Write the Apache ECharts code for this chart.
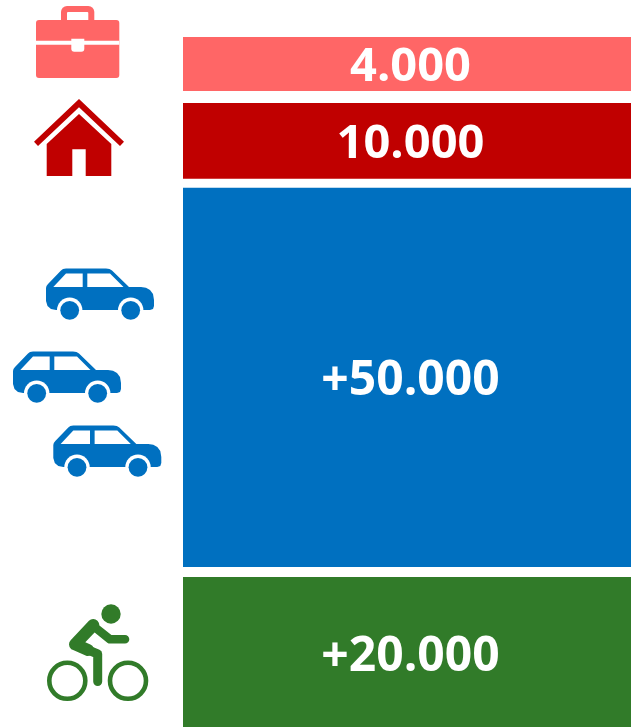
<!DOCTYPE html>
<html>
<head>
<meta charset="utf-8">
<style>html,body{margin:0;padding:0;background:#fff}#c{width:631px;height:727px}</style>
<script src="https://cdn.jsdelivr.net/npm/echarts@6/dist/echarts.min.js"></script>
</head>
<body>
<div id="c"></div>
<script>
// bottom-to-top order
const categories = ['Bike', 'Cars', 'Home', 'Work'];
const tickLabels = ['+20.000', '+50.000', '10.000', '4.000'];
// Drawn bar extents (the top bar is drawn taller than its 4.000 label)
const drawnValues = [20000, 50000, 10000, 7120];
const spacers = [1320, 1190, 1583];
const colors = ['#317B29', '#0070C0', '#C00000', '#FF6666'];
const labelDy = [5.5, 4, 3.5, 3.5];
const labelSizes = [48, 48, 47, 47];
const axisMin = 200;
const axisMax = 91213;

const series = [];
categories.forEach((name, i) => {
  series.push({
    name, type: 'bar', stack: 'total', barWidth: '100%',
    data: [drawnValues[i]],
    itemStyle: { color: colors[i] },
    label: {
      show: true, position: 'inside', offset: [3.5, labelDy[i]],
      formatter: tickLabels[i], color: '#fff',
      fontFamily: 'Open Sans', fontWeight: 700, fontSize: labelSizes[i]
    }
  });
  if (i < spacers.length) {
    series.push({
      name: 'gap' + i, type: 'bar', stack: 'total', barWidth: '100%',
      data: [spacers[i]], itemStyle: { color: 'transparent' }, silent: true
    });
  }
});

const blue = colors[1], red = colors[2], salmon = colors[3], green = colors[0];
const white = '#fff';
const carBody = [[0,20],[0.5,18],[2,16],[15,2.5],[17,1],[20,0.5],[60,0.5],[63.5,1],[66,2.5],[83,19],[95,19],[100,19.7],[104,22],[107,26],[108,32],[108,38],[107,41],[104,42],[10,42],[5,41],[1.5,38],[0,33]];

function car(x, y) {
  return {
    type: 'group', x, y,
    children: [
      { type: 'polygon', z: 1, shape: { points: carBody }, style: { fill: blue } },
      { type: 'polygon', z: 2, shape: { points: [[7.3,19],[20,5.5],[36.7,5.5],[36.7,19]] }, style: { fill: white } },
      { type: 'polygon', z: 2, shape: { points: [[41.3,19],[41.3,5.5],[64,5.5],[77.5,19]] }, style: { fill: white } },
      { type: 'circle', z: 2, shape: { cx: 23.7, cy: 42.3, r: 12.7 }, style: { fill: white } },
      { type: 'circle', z: 2, shape: { cx: 84.7, cy: 42.3, r: 12.7 }, style: { fill: white } },
      { type: 'circle', z: 3, shape: { cx: 23.7, cy: 42.3, r: 9.4 }, style: { fill: blue } },
      { type: 'circle', z: 3, shape: { cx: 84.7, cy: 42.3, r: 9.4 }, style: { fill: blue } }
    ]
  };
}

const icons = [
  // briefcase
  { type: 'rect', z: 1, shape: { x: 61, y: 6, width: 33.3, height: 20, r: 6 }, style: { fill: salmon } },
  { type: 'rect', z: 2, shape: { x: 67, y: 12, width: 21.3, height: 10, r: 1 }, style: { fill: white } },
  { type: 'rect', z: 3, shape: { x: 36, y: 20, width: 83.3, height: 58, r: 3 }, style: { fill: salmon } },
  { type: 'rect', z: 4, shape: { x: 36, y: 40.7, width: 83.3, height: 4 }, style: { fill: white } },
  { type: 'rect', z: 4, shape: { x: 71.3, y: 38.7, width: 13, height: 13, r: [0, 0, 3, 3] }, style: { fill: white } },
  // house
  { type: 'polygon', z: 1, shape: { points: [[79,99],[124,141.7],[120,146],[79,107.3],[38,146],[34,141.7]] }, style: { fill: red } },
  { type: 'polygon', z: 1, shape: { points: [[79,114],[111.3,144],[111.3,176],[85.7,176],[85.7,149.3],[72.3,149.3],[72.3,176],[46.7,176],[46.7,144]] }, style: { fill: red } },
  // cars
  car(46, 268), car(13, 351), car(53.3, 425),
  // bike
  { type: 'circle', z: 1, shape: { cx: 111, cy: 614, r: 9.7 }, style: { fill: green } },
  { type: 'circle', z: 1, shape: { cx: 67.3, cy: 680.8, r: 18 }, style: { fill: 'none', stroke: green, lineWidth: 4.6 } },
  { type: 'circle', z: 1, shape: { cx: 128, cy: 680.8, r: 18 }, style: { fill: 'none', stroke: green, lineWidth: 4.6 } },
  { type: 'polyline', z: 1, shape: { points: [[93.3,625],[75,644.3],[97.7,654],[97.7,681.5]] }, style: { fill: 'none', stroke: green, lineWidth: 9, lineCap: 'round', lineJoin: 'round' } },
  { type: 'polyline', z: 1, shape: { points: [[93.3,625],[75,644.3],[88,650]] }, style: { fill: 'none', stroke: green, lineWidth: 12, lineCap: 'round', lineJoin: 'round' } },
  { type: 'polyline', z: 1, shape: { points: [[93.3,626],[110,639.3],[125,639.3]] }, style: { fill: 'none', stroke: green, lineWidth: 8.6, lineCap: 'round', lineJoin: 'round' } }
];

const chart = echarts.init(document.getElementById('c'), null, { renderer: 'canvas' });
chart.setOption({
  animation: false,
  backgroundColor: '#fff',
  grid: { left: 183, right: 0, top: 37, bottom: 0 },
  xAxis: { type: 'category', data: ['total'], show: false },
  yAxis: { type: 'value', min: axisMin, max: axisMax, show: false },
  series,
  graphic: { elements: icons }
});
</script>
</body>
</html>
